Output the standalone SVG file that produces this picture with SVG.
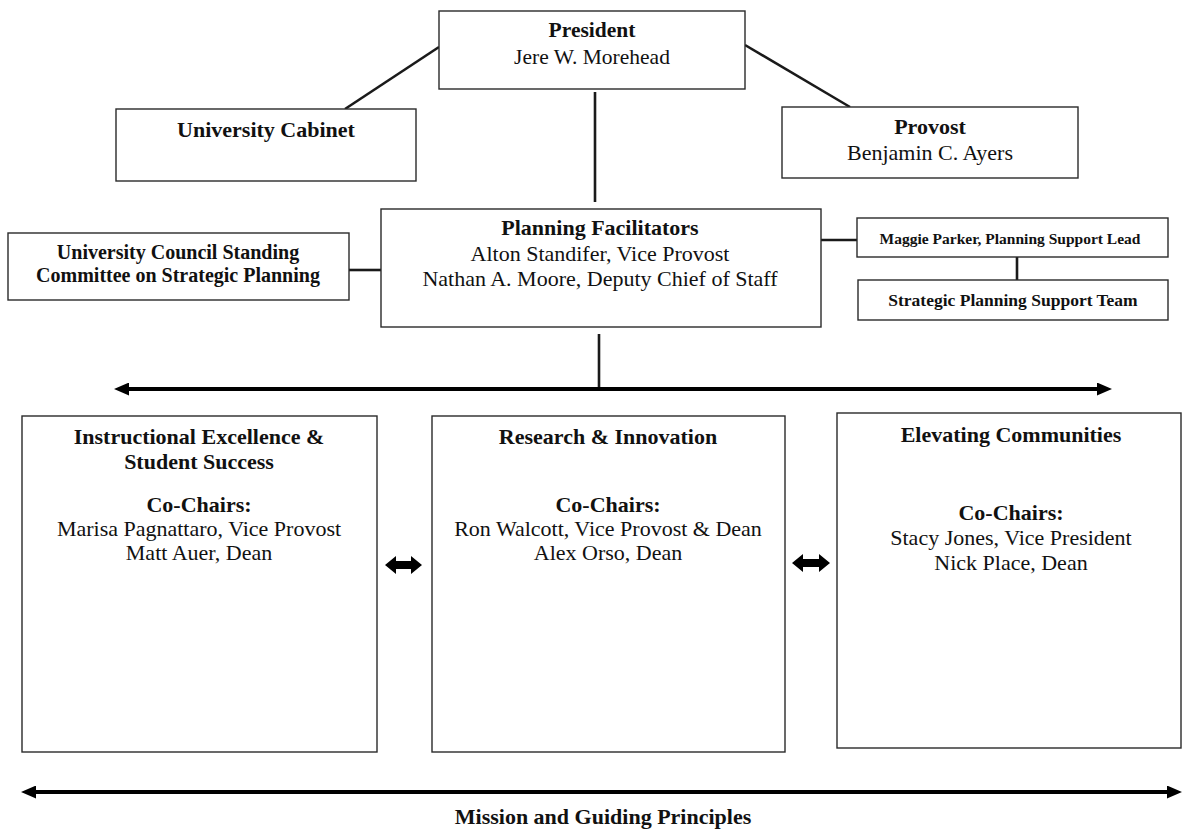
<svg xmlns="http://www.w3.org/2000/svg" width="1182" height="830" viewBox="0 0 1182 830">
<style>
  .box { fill: #fff; stroke: #2a2a2a; stroke-width: 1.4; }
  .t { font-family: "Liberation Serif", "Times New Roman", serif; fill: #111; text-anchor: middle; }
  .b { font-weight: bold; }
  .conn { stroke: #1a1a1a; stroke-width: 2.6; fill: none; }
  .arr { stroke: #000; stroke-width: 4; fill: none; }
  .dbl { fill: #000; }
</style>
<defs>
  <marker id="ah" markerUnits="userSpaceOnUse" markerWidth="15" markerHeight="13" viewBox="0 0 15 13" refX="2" refY="6.5" orient="auto-start-reverse">
    <path d="M0,0 L15,6.5 L0,13 z" fill="#000"/>
  </marker>
</defs>
<rect width="1182" height="830" fill="#fff"/>

<g id="connectors">
  <line class="conn" x1="439" y1="47" x2="345" y2="109"/>
  <line class="conn" x1="745" y1="45" x2="850" y2="107"/>
  <line class="conn" x1="595" y1="92" x2="595" y2="202"/>
  <line class="conn" x1="349" y1="270" x2="381" y2="270"/>
  <line class="conn" x1="821" y1="240" x2="857" y2="240"/>
  <line class="conn" x1="1017" y1="257" x2="1017" y2="280"/>
  <line class="conn" x1="599" y1="334" x2="599" y2="389"/>
  <line class="arr" x1="127" y1="389" x2="1099" y2="389" marker-start="url(#ah)" marker-end="url(#ah)"/>
  <polygon class="dbl" points="385,565 396,556 396,561 411,561 411,556 422,565 411,574 411,569 396,569 396,574"/>
  <polygon class="dbl" points="792,563 803,554 803,559 819,559 819,554 830,563 819,572 819,567 803,567 803,572"/>
  <line class="arr" x1="34" y1="792" x2="1169" y2="792" marker-start="url(#ah)" marker-end="url(#ah)"/>
</g>

<g id="president">
  <rect class="box" x="439" y="11" width="306" height="78"/>
  <text class="t b" x="592" y="37" font-size="21.5">President</text>
  <text class="t" x="592" y="64" font-size="21.5">Jere W. Morehead</text>
</g>

<g id="cabinet">
  <rect class="box" x="116" y="109" width="300" height="72"/>
  <text class="t b" x="266" y="137" font-size="22">University Cabinet</text>
</g>

<g id="provost">
  <rect class="box" x="782" y="107" width="296" height="71"/>
  <text class="t b" x="930" y="134" font-size="22">Provost</text>
  <text class="t" x="930" y="160" font-size="22">Benjamin C. Ayers</text>
</g>

<g id="standing-committee">
  <rect class="box" x="8" y="233" width="341" height="67"/>
  <text class="t b" x="178" y="259" font-size="20">University Council Standing</text>
  <text class="t b" x="178" y="282" font-size="20">Committee on Strategic Planning</text>
</g>

<g id="planning-facilitators">
  <rect class="box" x="381" y="209" width="440" height="118"/>
  <text class="t b" x="600" y="235" font-size="22">Planning Facilitators</text>
  <text class="t" x="600" y="261" font-size="22">Alton Standifer, Vice Provost</text>
  <text class="t" x="600" y="286" font-size="22">Nathan A. Moore, Deputy Chief of Staff</text>
</g>

<g id="support-lead">
  <rect class="box" x="857" y="218" width="311" height="39"/>
  <text class="t b" x="1010" y="244" font-size="15.5">Maggie Parker, Planning Support Lead</text>
</g>

<g id="support-team">
  <rect class="box" x="858" y="280" width="310" height="40"/>
  <text class="t b" x="1013" y="306" font-size="17.5">Strategic Planning Support Team</text>
</g>

<g id="instructional-excellence">
  <rect class="box" x="22" y="416" width="355" height="336"/>
  <text class="t b" x="199" y="444" font-size="22">Instructional Excellence &amp;</text>
  <text class="t b" x="199" y="469" font-size="22">Student Success</text>
  <text class="t b" x="199" y="512" font-size="22">Co-Chairs:</text>
  <text class="t" x="199" y="536" font-size="22">Marisa Pagnattaro, Vice Provost</text>
  <text class="t" x="199" y="560" font-size="22">Matt Auer, Dean</text>
</g>

<g id="research-innovation">
  <rect class="box" x="432" y="416" width="353" height="336"/>
  <text class="t b" x="608" y="444" font-size="22">Research &amp; Innovation</text>
  <text class="t b" x="608" y="512" font-size="22">Co-Chairs:</text>
  <text class="t" x="608" y="536" font-size="22">Ron Walcott, Vice Provost &amp; Dean</text>
  <text class="t" x="608" y="560" font-size="22">Alex Orso, Dean</text>
</g>

<g id="elevating-communities">
  <rect class="box" x="837" y="413" width="344" height="335"/>
  <text class="t b" x="1011" y="442" font-size="22">Elevating Communities</text>
  <text class="t b" x="1011" y="520" font-size="22">Co-Chairs:</text>
  <text class="t" x="1011" y="545" font-size="22">Stacy Jones, Vice President</text>
  <text class="t" x="1011" y="570" font-size="22">Nick Place, Dean</text>
</g>

<g id="mission">
  <text class="t b" x="603" y="824" font-size="22">Mission and Guiding Principles</text>
</g>
</svg>
